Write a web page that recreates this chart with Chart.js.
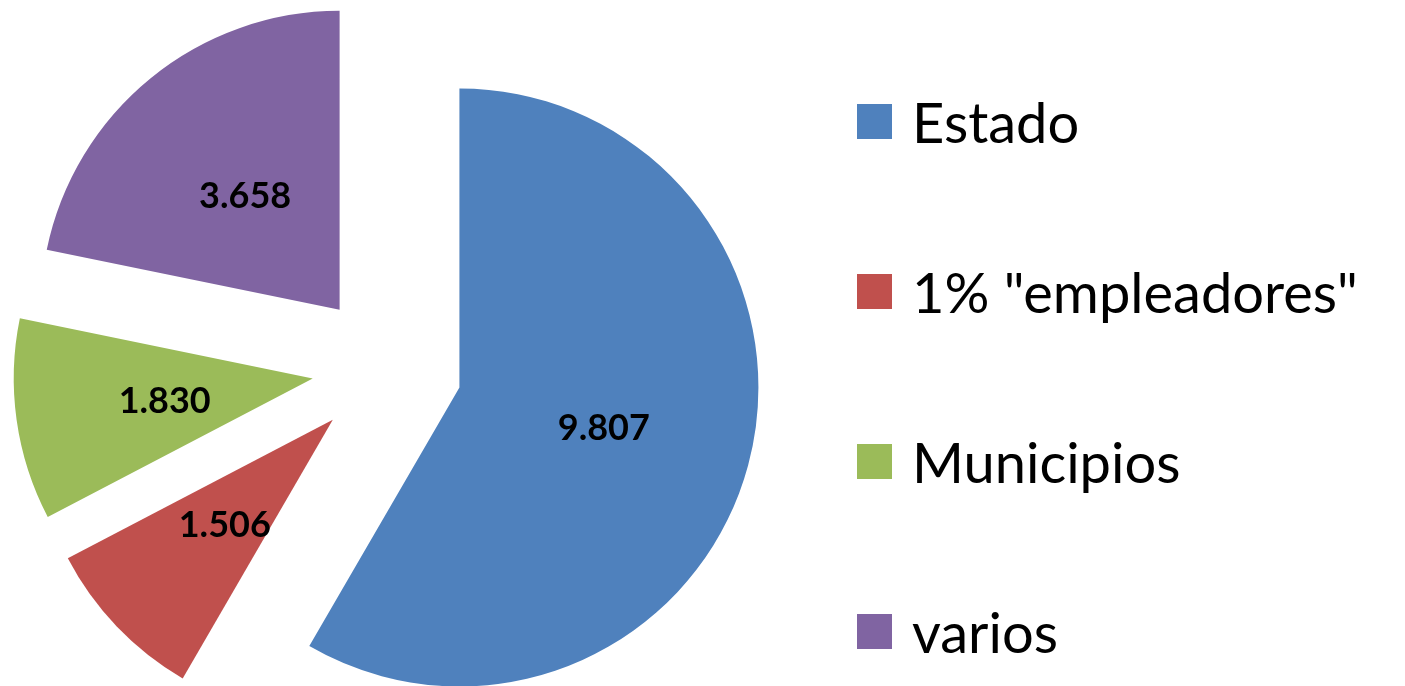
<!DOCTYPE html>
<html>
<head>
<meta charset="utf-8">
<script src="https://cdn.jsdelivr.net/npm/chart.js@4/dist/chart.umd.min.js"></script>
<style>
	body { margin: 0; background: #fff; }
	#wrap { position: relative; width: 1405px; height: 686px; }
	#legend { position: absolute; left: 0; top: 0; }
	.item { position: absolute; left: 857px; height: 70px; display: flex; align-items: center; font-family: Lato, sans-serif; font-size: 56px; color: #000; white-space: nowrap; }
	.box { width: 35px; height: 35px; margin-right: 20px; flex: none; }
</style>
</head>
<body>
<div id="wrap">
	<canvas id="pie_chart" width="1405" height="686"></canvas>
	<div id="legend"></div>
</div>
<script>
const labels = ['Estado', '1% "empleadores"', 'Municipios', 'varios'];
const values = [9.807, 1.506, 1.830, 3.658];
const valueText = ['9.807', '1.506', '1.830', '3.658'];
const colors = ['#4F81BD', '#C0504D', '#9BBB59', '#8064A2'];

const EXPLODE = 75;

// every slice is pulled out along its bisector (Excel-style exploded pie)
const explodePlugin = {
	id: 'explode',
	beforeDatasetDraw(chart, args) {
		const ctx = chart.ctx;
		const meta = args.meta;
		meta.data.forEach(arc => {
			const mid = (arc.startAngle + arc.endAngle) / 2;
			ctx.save();
			ctx.translate(Math.cos(mid) * EXPLODE, Math.sin(mid) * EXPLODE);
			arc.draw(ctx);
			ctx.restore();
		});
		return false;
	},
	afterDatasetsDraw(chart) {
		const ctx = chart.ctx;
		const meta = chart.getDatasetMeta(0);
		ctx.save();
		ctx.font = 'bold 36px Lato, sans-serif';
		ctx.fillStyle = '#000';
		ctx.textAlign = 'center';
		ctx.textBaseline = 'middle';
		meta.data.forEach((arc, i) => {
			const mid = (arc.startAngle + arc.endAngle) / 2;
			const d = EXPLODE + arc.outerRadius / 2;
			ctx.fillText(valueText[i], arc.x + Math.cos(mid) * d, arc.y + Math.sin(mid) * d + 2);
		});
		ctx.restore();
	}
};

const config_pie = {
	type: 'pie',
	data: {
		labels: labels,
		datasets: [{
			data: values,
			backgroundColor: colors,
			borderWidth: 0,
		}]
	},
	options: {
		responsive: false,
		animation: false,
		devicePixelRatio: 1,
		radius: 299,
		layout: {
			padding: { left: 0, right: 631, top: 50, bottom: 0 }
		},
		plugins: {
			legend: { display: false },
			tooltip: { enabled: false },
			title: { display: false }
		}
	},
	plugins: [explodePlugin]
};

const pie_chart = new Chart(document.getElementById('pie_chart'), config_pie);

// legend on the right
const legend = document.getElementById('legend');
labels.forEach((label, i) => {
	const item = document.createElement('div');
	item.className = 'item';
	item.style.top = (121 + i * 170 - 35) + 'px';
	const box = document.createElement('span');
	box.className = 'box';
	box.style.background = colors[i];
	const txt = document.createElement('span');
	txt.textContent = label;
	item.appendChild(box);
	item.appendChild(txt);
	legend.appendChild(item);
});
</script>
</body>
</html>
